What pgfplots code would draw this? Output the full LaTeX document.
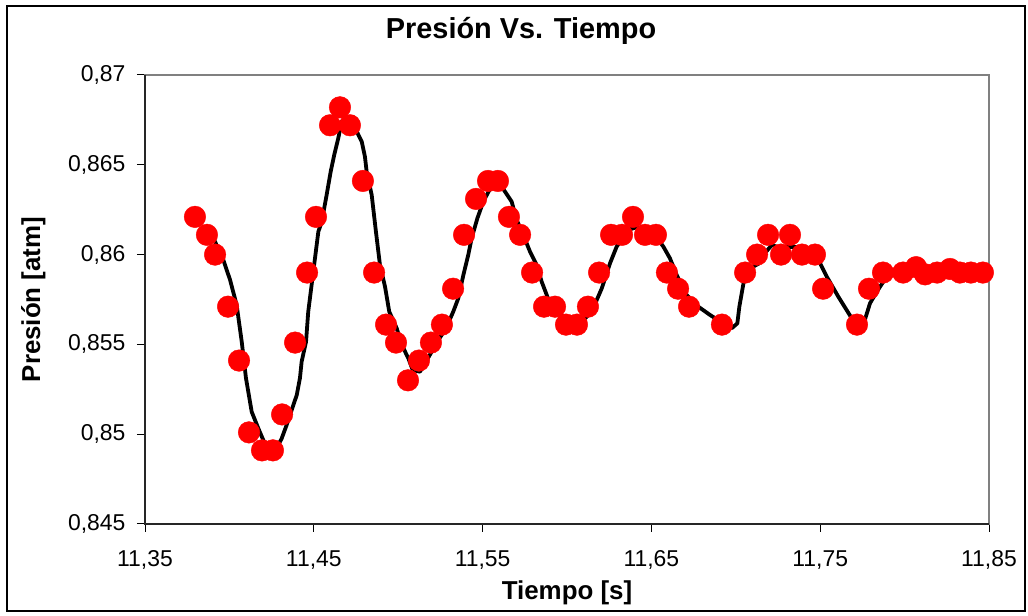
\documentclass[border=0pt]{standalone}
\usepackage{fontspec}
\setmainfont{Liberation Sans}
\usepackage{pgfplots}
\pgfplotsset{compat=1.18}
\usepackage{pgfplotstable}

\pgfplotstableread{
t p
11.3796 0.8621
11.3867 0.8611
11.3915 0.8600
11.3992 0.8571
11.4057 0.8541
11.4116 0.8501
11.4193 0.8491
11.4258 0.8491
11.4312 0.8511
11.4389 0.8551
11.4460 0.8590
11.4513 0.8621
11.4596 0.8672
11.4655 0.8682
11.4714 0.8672
11.4791 0.8641
11.4857 0.8590
11.4928 0.8561
11.4987 0.8551
11.5058 0.8530
11.5123 0.8541
11.5194 0.8551
11.5259 0.8561
11.5325 0.8581
11.5390 0.8611
11.5461 0.8631
11.5532 0.8641
11.5591 0.8641
11.5656 0.8621
11.5722 0.8611
11.5793 0.8590
11.5864 0.8571
11.5929 0.8571
11.5994 0.8561
11.6059 0.8561
11.6124 0.8571
11.6190 0.8590
11.6261 0.8611
11.6326 0.8611
11.6391 0.8621
11.6462 0.8611
11.6527 0.8611
11.6592 0.8590
11.6658 0.8581
11.6723 0.8571
11.6918 0.8561
11.7055 0.8590
11.7126 0.8600
11.7191 0.8611
11.7268 0.8600
11.7321 0.8611
11.7392 0.8600
11.7469 0.8600
11.7517 0.8581
11.7718 0.8561
11.7789 0.8581
11.7872 0.8590
11.7991 0.8590
11.8068 0.8593
11.8121 0.8589
11.8192 0.8590
11.8269 0.8592
11.8328 0.8590
11.8393 0.8590
11.8464 0.8590
}\puntos

% media movil (trazo negro)
\pgfplotstableread{
t p
11.3869 0.86150
11.3915 0.86072
11.3964 0.85970
11.4004 0.85859
11.4043 0.85719
11.4073 0.85515
11.4098 0.85313
11.4132 0.85125
11.4171 0.85033
11.4205 0.84958
11.4241 0.84918
11.4270 0.84903
11.4310 0.84977
11.4339 0.85051
11.4359 0.85107
11.4399 0.85218
11.4418 0.85313
11.4428 0.85404
11.4454 0.85515
11.4467 0.85682
11.4497 0.85905
11.4527 0.86128
11.4547 0.86183
11.4576 0.86332
11.4600 0.86462
11.4621 0.86555
11.4645 0.86648
11.4665 0.86740
11.4685 0.86762
11.4725 0.86749
11.4750 0.86694
11.4784 0.86629
11.4803 0.86545
11.4813 0.86462
11.4843 0.86332
11.4868 0.86128
11.4892 0.85942
11.4922 0.85821
11.4947 0.85682
11.4991 0.85590
11.5021 0.85497
11.5060 0.85423
11.5086 0.85357
11.5129 0.85348
11.5159 0.85395
11.5198 0.85459
11.5238 0.85524
11.5283 0.85590
11.5326 0.85682
11.5356 0.85757
11.5386 0.85886
11.5415 0.85998
11.5435 0.86091
11.5469 0.86202
11.5504 0.86295
11.5554 0.86384
11.5599 0.86397
11.5633 0.86350
11.5672 0.86295
11.5702 0.86193
11.5741 0.86109
11.5781 0.86016
11.5820 0.85942
11.5850 0.85849
11.5895 0.85738
11.5949 0.85673
11.6008 0.85636
11.6061 0.85608
11.6097 0.85636
11.6146 0.85682
11.6206 0.85812
11.6255 0.85952
11.6294 0.86044
11.6363 0.86137
11.6403 0.86150
11.6472 0.86146
11.6521 0.86109
11.6571 0.86044
11.6610 0.85979
11.6650 0.85886
11.6709 0.85775
11.6778 0.85710
11.6847 0.85664
11.6926 0.85617
11.6976 0.85590
11.7009 0.85617
11.7021 0.85710
11.7049 0.85859
11.7084 0.85924
11.7133 0.85948
11.7163 0.85998
11.7213 0.86053
11.7242 0.86044
11.7400 0.86041
11.7450 0.86016
11.7489 0.85970
11.7539 0.85877
11.7607 0.85766
11.7687 0.85645
11.7726 0.85599
11.7755 0.85608
11.7795 0.85729
11.7835 0.85793
11.7874 0.85849
11.7914 0.85892
11.7973 0.85896
11.8032 0.85909
11.8091 0.85909
11.8150 0.85886
11.8200 0.85886
11.8269 0.85901
11.8348 0.85901
11.8407 0.85896
11.8464 0.85896
}\media

\begin{document}
\begin{tikzpicture}[x=1bp,y=1bp]
    \useasboundingbox (0,0) rectangle (1028,616);
    \draw[black, line width=1.5bp] (7,5) rectangle (1025,610);
    \begin{axis}[
        at={(145bp,92bp)}, anchor=south west,
        scale only axis,
        width=844bp, height=449bp,
        xmin=11.35, xmax=11.85,
        ymin=0.845, ymax=0.87,
        xtick={11.35,11.45,11.55,11.65,11.75,11.85},
        ytick={0.845,0.85,0.855,0.86,0.865,0.87},
        xtick pos=bottom, ytick pos=left,
        tick align=outside,
        major tick length=8bp,
        tick style={black, line width=1bp},
        axis line style={draw=gray, line width=2bp},
        /pgf/number format/.cd, use comma, fixed, precision=3, assume math mode=true,
        /pgfplots/.cd,
        xticklabel style={/pgf/number format/precision=2, yshift=-15bp},
        yticklabel style={xshift=-8bp},
        tick label style={font=\fontsize{23}{27}\selectfont},
        title={Presión Vs. Tiempo},
        title style={font=\bfseries\fontsize{29}{34}\selectfont,
            at={(rel axis cs:0.5,1)}, anchor=base, yshift=31bp, xshift=-46bp},
        xlabel={Tiempo [s]},
        xlabel style={font=\bfseries\fontsize{26}{31}\selectfont,
            at={(rel axis cs:0.5,0)}, anchor=base, yshift=-76bp},
        ylabel={Presión [atm]},
        ylabel style={font=\bfseries\fontsize{26}{31}\selectfont,
            at={(axis description cs:-0.1244,0.5)}, anchor=base},
        clip=false,
    ]
        \addplot[red, only marks, mark=*, mark size=10.8bp,
            mark options={fill=red, draw=red}] table[x=t, y=p] {\puntos};
        \addplot[black, line width=3.8bp, line join=round, no marks] table[x=t, y=p] {\media};
        \draw[black!85, line width=1.5bp] (rel axis cs:0,1) -- (rel axis cs:0,0) -- (rel axis cs:1,0);
    \end{axis}
\end{tikzpicture}
\end{document}
